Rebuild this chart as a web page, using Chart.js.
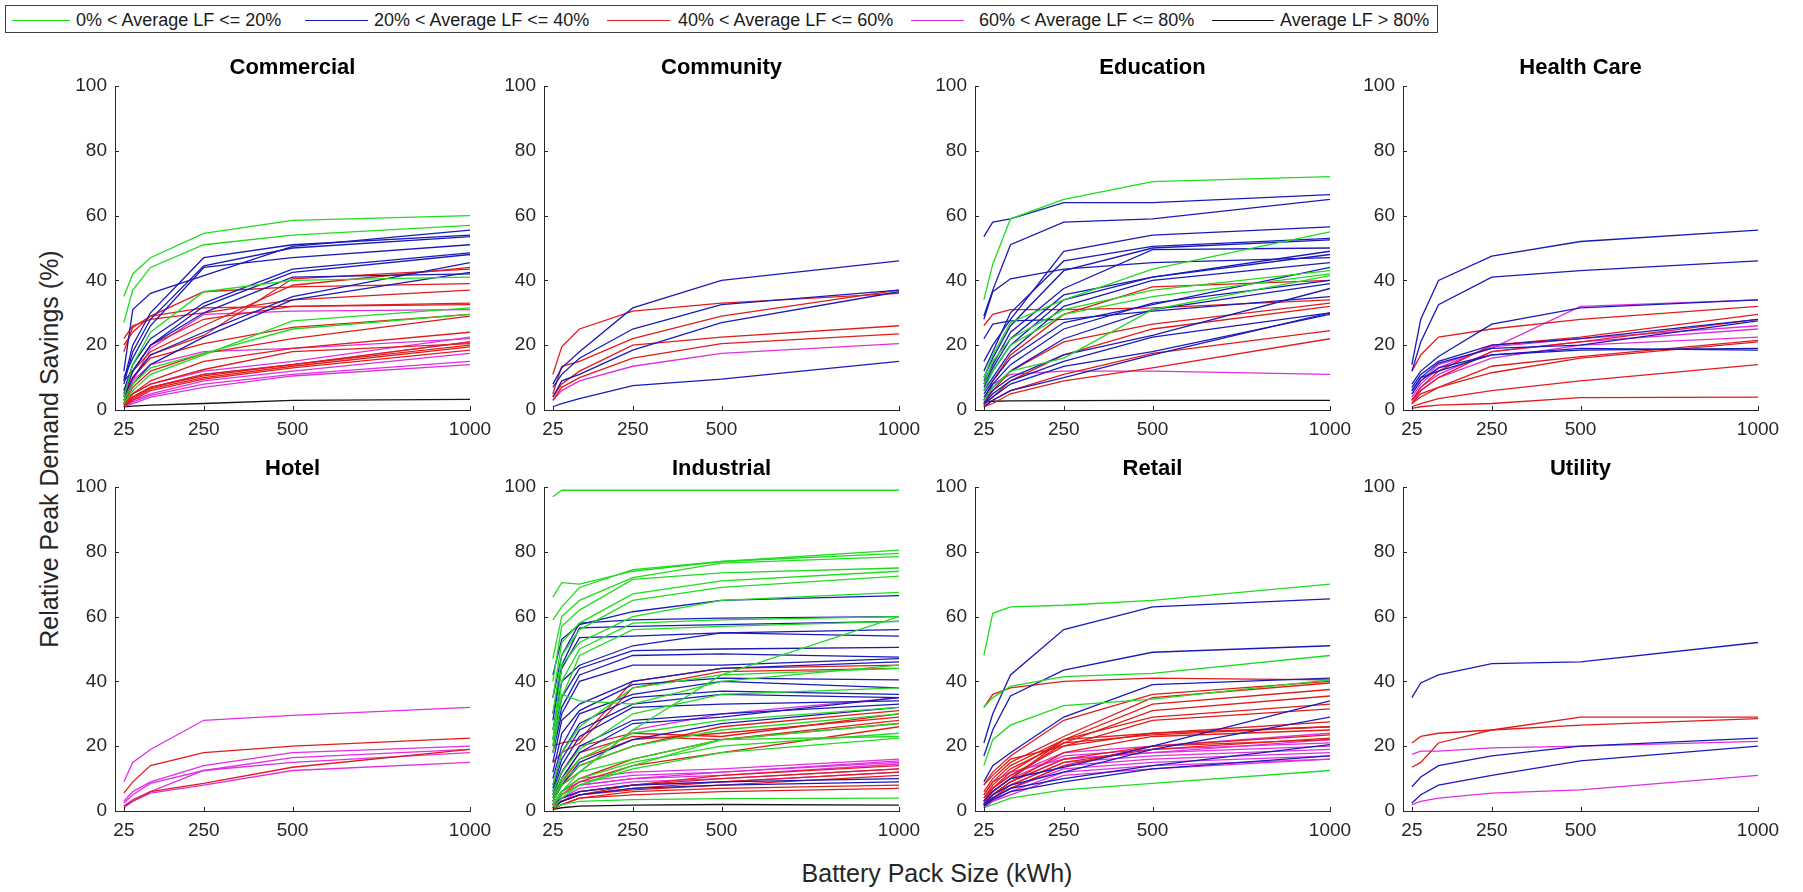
<!DOCTYPE html>
<html>
<head>
<meta charset="utf-8">
<script src="https://cdn.jsdelivr.net/npm/chart.js@4.4.1/dist/chart.umd.min.js"></script>
<style>
  body { margin: 0; background: #fff; width: 1803px; height: 892px; position: relative; overflow: hidden;
         font-family: "Liberation Sans", Arial, sans-serif; color: #262626; }
  canvas { position: absolute; }
  #legend { position: absolute; left: 5px; top: 5px; width: 1433px; height: 28px; border: 1px solid #404040; box-sizing: border-box; }
  .lg-line { position: absolute; top: 14px; height: 0; border-top: 1.5px solid; }
  .lg-text { position: absolute; top: 4px; font-size: 18px; line-height: 20px; white-space: nowrap; color: #1a1a1a; }
  #ytitle { position: absolute; left: -251px; top: 434px; width: 600px; height: 30px; line-height: 30px; text-align: center;
            font-size: 25px; transform: rotate(-90deg); }
  #xtitle { position: absolute; left: 637px; top: 858px; width: 600px; height: 30px; line-height: 30px; text-align: center; font-size: 25px; }
</style>
</head>
<body>
<div id="legend"></div>
<div id="ytitle">Relative Peak Demand Savings (%)</div>
<div id="xtitle">Battery Pack Size (kWh)</div>
<script>
// battery pack sizes (kWh) where each curve is sampled
const sizes = [25, 50, 100, 250, 500, 1000];
const xTicks = [25, 250, 500, 1000];
const yTicks = [0, 20, 40, 60, 80, 100];

const sectors = ["Commercial", "Community", "Education", "Health Care", "Hotel", "Industrial", "Retail", "Utility"];
const lfLabels = ["0% < Average LF <= 20%", "20% < Average LF <= 40%", "40% < Average LF <= 60%", "60% < Average LF <= 80%", "Average LF > 80%"];
const lfColors = ["#1fdc1f", "#1a1ab8", "#e01c1c", "#e02ee0", "#141414"];

// relative peak demand savings (%) per building, grouped by load factor class
// g: 0-20%, b: 20-40%, r: 40-60%, m: 60-80%, k: >80%
const commercial = {
  g: [[35,42,47,54.5,58.5,60],[27,37,44,51,54,57],[4,14,24,36.5,40,41],[2,6,11,17,27.5,31.5],[3,8,13,17.5,25,29.5]],
  b: [[12,31,36,41.5,50.5,55.5],[9,20,30,47,51,54],[8,18,28,44.5,50,53.5],[10,16,26,44,47,51],[6,14,22,33,43.5,48.5],
      [5,12,20,32,42.5,48],[4,10,17,24,35,45.5],[3,8,14,22.5,34,42.5],[9,12,20,30,41,42]],
  r: [[18,25.5,29,31.5,32,32.5],[20,24,29,36.5,38,39],[5,10,17,23,40.5,43.5],[6,12,18,26,38.5,44],[3,10,16,20.5,25.5,29.5],
      [2,7,12,17.5,22,29],[2,5,9,15,19,24],[1.5,4,7,11,14,21],[1.5,4,7,10.5,14,20],[1,3.5,6.5,10,13.5,19.5],
      [1,3,6,9.5,13,18.5],[2,5,8,12.5,18,20.5],[4,12,20,28,32,33],[22,26,28,30,34,37]],
  m: [[2,9,14,18,19,22],[1.5,5,8,12,15,22.5],[1,3,5,9,12,17.5],[1,2.5,4.5,8,11,15],[1,2,4,7,10.5,14],
      [2,9,19,29.5,30.5,31],[1,4,7,11,14,21]],
  k: [[1,1.2,1.5,2,3,3.3]]
};
const community = {
  g: [],
  b: [[8,13,18,31.5,40,46],[7,11,16,25,32.5,37],[4,9,11,18.5,27,36.5],[1,2,3.5,7.5,9.5,15]],
  r: [[11,19.5,25,30.5,33,36],[5,13.5,15,22,29,37],[4,8,12,20,22.5,26],[3,7,10,16,20.5,23.5]],
  m: [[3,6,9,13.5,17.5,20.5]],
  k: []
};
const education = {
  g: [[34,45,59,65,70.5,72],[10,17,27,34,43.5,55],[8,15,22,31,37,43],[6,12,20,29.5,35,42],[3,7,12,16,31,41.5]],
  b: [[53.5,58,59,64,64,66.5],[29,37,51,58,59,65],[28,36.5,40.5,43.5,45.5,47],[22,26.5,27.5,28,30.5,35],
      [15,20,28,49,54,56.5],[12,18,30,46,50.5,53],[10,16,26,43,50,52.5],[9,14,24,37.5,49.5,50],
      [8,13,22,35.5,41,49],[7,12,20,34,41,48],[6,10,18,32,40,45.5],[5,9,16,27,32.5,44],
      [4,8,14,25,33,40],[3,7,12,22,31,39],[3,6,10,17,23,37.5],[2,5,9,15,22.5,30],[2,4,8,13.5,18,29.5],[1,3,6,10,17,30]],
  r: [[26,29.5,31,31,31.5,34],[3,9,17,29.5,38,40],[2,6,12,21,26.5,33],[1.5,4,9,17,25,32],[1,3,6,11,17.5,24.5],[1,2,5,9,13,22]],
  m: [[1.5,8,11,12,12,11]],
  k: [[2.5,2.7,2.8,2.9,3,3]]
};
const healthCare = {
  g: [],
  b: [[14,28,40,47.5,52,55.5],[12,21,32.5,41,43,46],[8,12,16.5,26.5,31.5,34],[7,11,15,20,22,28],
      [6,10,14.5,19,20,27.5],[5,9,13,17,18.5,19],[6,10,12,17,19,18.5]],
  r: [[12,17,22.5,25,28,32],[3,7,12,20,22.5,29.5],[3,6,10,18,21,28],[2,5,7,13.5,16.5,21.5],
      [2,4,7,11.5,16,21],[1,2,3.5,6,9,14],[0.5,1,1.5,2,3.8,4]],
  m: [[4,8,13,19.5,22,26],[3,7,11,18,21,25],[2,6,10,16,20,22.5],[5,9,14,19,32,34]],
  k: []
};
const hotel = {
  g: [],
  b: [],
  r: [[5.5,9,14,18,20,22.5],[1.5,3,6,8.5,13.5,19]],
  m: [[9,15,19,28,29.5,32],[3,6,9,14,18,20],[2.5,5,8.5,12.5,16.5,19],[1.5,3.5,6,12.5,15,18],[1,3,5.5,8,12.5,15]],
  k: []
};
const industrial = {
  g: [[97,99,99,99,99,99],[66,70.5,70,74,77,80.5],[59,63,69,74.5,77,79.5],[47,60,65,72,76.5,78.5],
      [40,57,62,71.5,73.5,75],[35,52,58,67,71,74],[30,48,56,65,69,72.5],[22,45,52,60,65,67.5],
      [20,40,50,58,59,60],[18,35,48,56,57,58.5],[8,18,26,38,42,44],[6,12,19,30,36,38],
      [5,10,16,24,28,32],[4,9,14,20,25,30],[3,8,12,16,22,27],[2,6,10,15,20,24],[2,5,8,13,18,22.5],
      [1,4,8,14,22,23],[1,2,3,3.5,3.8,4],[2,6,12,25,42,60],[25,36,34,33,40,45]],
  b: [[42,53,57.5,61.5,65,66.5],[35,48,58,59,59.5,60],[30,45,56.5,57,57.5,58.5],[28,44,53.5,54,55,56],
      [25,40,45,51,55,54],[22,35,44,49.5,50,50.5],[20,32,42,48,48.5,47.5],[18,30,40,45,45,47],
      [15,28,33,40,44,46],[12,24,31,39,41,40.5],[10,20,30,36,40,38],[8,18,27,35,37,36],
      [7,16,25,33,36,35],[6,14,23,32,33,34],[5,12,20,28,30,33],[4,10,18,27,29,35],[3,8,15,22,27,32],
      [2,4,6,8,9,10],[1,3,5,7,8,9]],
  r: [[20,21,22,40,44,45],[15,18,21,38,43,44],[5,12,20,24,23,30],[4,10,18,23,22,28],[3,9,16,22,24,29],
      [3,8,14,20,26,31],[2,6,10,16,22,27],[1,4,6,8,10,13],[1,3,5,7,9,12],[1,3,5,6.5,8,11],
      [0.5,2,4,6,7,8],[0.5,2,4,5,6,7],[1,3,5,8,11,14],[2,5,9,14,18,26]],
  m: [[3,8,12,25,30,35],[2,6,9,11,12,15],[2,5,8,10,12,15.5],[1.5,5,8,10,11,14.5],[1,4,7,9,10,13],
      [1,3,6,8,9,12],[2,6,10,12,13,16]],
  k: [[0.5,1,1.5,1.8,2,1.8]]
};
const retail = {
  g: [[48,61,63,63.5,65,70],[32,35,38.5,41.5,42.5,48],[14,22,26.5,32.5,34.5,40.5],[1,2,4,6.5,8.5,12.5]],
  b: [[21,30,42,56,63,65.5],[17,25,35.5,43.5,49,51],[9,14,18,29,39,41],[3,6,10,13.5,20,34],
      [2,5,8,12,19,29],[2,4,7,10,14,20.5],[1.5,3.5,6,9,13,17]],
  r: [[32,36,38,40,41,40.5],[8,12,17,28,36,40],[6,10,15,23,35,39.5],[5,9,14,22,33,37.5],[4,8,13,21,31,35.5],
      [4,7,12,22,29,33],[3,7,11,20,28,31.5],[3,6,10,22,24,27.5],[3,6,10,21,23.5,26],[2,5,9,18,23,25],
      [2,5,9,16,20,23.5],[2,4,8,15,19,22.5],[8,11,16,20,24,26],[1.5,4,7,14,20,22]],
  m: [[3,7,11,18,20,24],[2.5,6,10,17,19,21],[2,5,9,16,18,20],[2,5,8,15,17,19],[1.5,4,7,14,16,18],
      [1.5,4,7,13,15,17],[1,3,6,12,14,16],[1,3,5,11,13,16],[5,9,12,16,18,22]],
  k: []
};
const utility = {
  g: [],
  b: [[35,39.5,42,45.5,46,52],[7.5,10.5,14,17,20,22.5],[2.5,5,8,11,15.5,20]],
  r: [[21,23,24,25,26.5,28.5],[13.5,15,21,25,29,29]],
  m: [[17.5,18.5,18.5,19.5,20,21.5],[2,3,4,5.5,6.5,11]],
  k: []
};
const sectorData = [commercial, community, education, healthCare, hotel, industrial, retail, utility];

// plot-area placement of the 2x4 grid
const colLeft = [115, 544, 975, 1403];
const plotW = 355;
const rowTop = [87, 488];
const plotH = 323.5;
const yAxisW = 70, padRight = 34, titleH = 30, xAxisH = 46;

const FONT = '"Liberation Sans", Arial, sans-serif';

// MATLAB-style inward tick marks
const inwardTicks = {
  id: "inwardTicks",
  afterDraw(chart) {
    const { ctx, chartArea: a, scales: { x, y } } = chart;
    ctx.save();
    ctx.strokeStyle = "#262626";
    ctx.lineWidth = 1;
    ctx.beginPath();
    y.ticks.forEach((t) => {
      const py = Math.round(y.getPixelForValue(t.value)) + 0.5;
      ctx.moveTo(a.left, py);
      ctx.lineTo(a.left + 4, py);
    });
    x.ticks.forEach((t) => {
      const px = Math.round(x.getPixelForValue(t.value)) + 0.5;
      ctx.moveTo(px, a.bottom);
      ctx.lineTo(px, a.bottom - 4);
    });
    ctx.stroke();
    ctx.restore();
  },
};

const classKeys = ["g", "b", "r", "m", "k"];

const makeChart = (idx) => {
  const col = idx % 4;
  const row = Math.floor(idx / 4);
  const canvas = document.createElement("canvas");
  const w = yAxisW + plotW + padRight;
  const h = titleH + plotH + xAxisH;
  canvas.width = w;
  canvas.height = h;
  canvas.style.left = colLeft[col] - yAxisW + "px";
  canvas.style.top = rowTop[row] - titleH + "px";
  document.body.appendChild(canvas);

  const datasets = [];
  classKeys.forEach((key, ci) => {
    sectorData[idx][key].forEach((vals) => {
      datasets.push({
        label: lfLabels[ci],
        data: vals.map((v, i) => ({ x: sizes[i], y: v })),
        borderColor: lfColors[ci],
        borderWidth: 1.3,
        pointRadius: 0,
        tension: 0,
        fill: false,
      });
    });
  });

  new Chart(canvas.getContext("2d"), {
    type: "line",
    data: { datasets },
    plugins: [inwardTicks],
    options: {
      responsive: false,
      animation: false,
      devicePixelRatio: 1,
      layout: { padding: { left: 0, right: padRight, top: 0, bottom: 0 } },
      plugins: {
        legend: { display: false },
        tooltip: { enabled: false },
        title: {
          display: true,
          text: sectors[idx],
          fullSize: false,
          color: "#000",
          font: { family: FONT, size: 22, weight: "bold", lineHeight: 1 },
          padding: { top: 0, bottom: titleH - 22 - 1 },
        },
      },
      scales: {
        x: {
          type: "linear",
          min: 0,
          max: 1000,
          afterBuildTicks: (scale) => {
            scale.ticks = xTicks.map((v) => ({ value: v }));
          },
          afterFit: (scale) => {
            scale.height = xAxisH;
          },
          grid: { display: true, drawOnChartArea: false, drawTicks: false },
          border: { display: true, color: "#262626", width: 1 },
          ticks: {
            autoSkip: false, maxRotation: 0, padding: 8, color: "#262626",
            font: { family: FONT, size: 19 },
            callback: (v) => String(v),
          },
        },
        y: {
          type: "linear",
          min: 0,
          max: 100,
          afterBuildTicks: (scale) => {
            scale.ticks = yTicks.map((v) => ({ value: v }));
          },
          afterFit: (scale) => {
            scale.width = yAxisW;
          },
          grid: { display: true, drawOnChartArea: false, drawTicks: false },
          border: { display: true, color: "#262626", width: 1 },
          ticks: { padding: 8, color: "#262626", font: { family: FONT, size: 19 }, callback: (v) => String(v) },
        },
      },
    },
  });
};

sectors.forEach((s, i) => makeChart(i));

// shared legend
const legend = document.getElementById("legend");
const lgLine = [[6, 64], [299, 362], [601, 664], [905, 958], [1206, 1268]];
const lgText = [70, 368, 672, 973, 1274];
lfLabels.forEach((label, i) => {
  const line = document.createElement("div");
  line.className = "lg-line";
  line.style.left = lgLine[i][0] + "px";
  line.style.width = lgLine[i][1] - lgLine[i][0] + "px";
  line.style.borderTopColor = lfColors[i];
  legend.appendChild(line);
  const txt = document.createElement("div");
  txt.className = "lg-text";
  txt.style.left = lgText[i] + "px";
  txt.textContent = label;
  legend.appendChild(txt);
});
</script>
</body>
</html>
